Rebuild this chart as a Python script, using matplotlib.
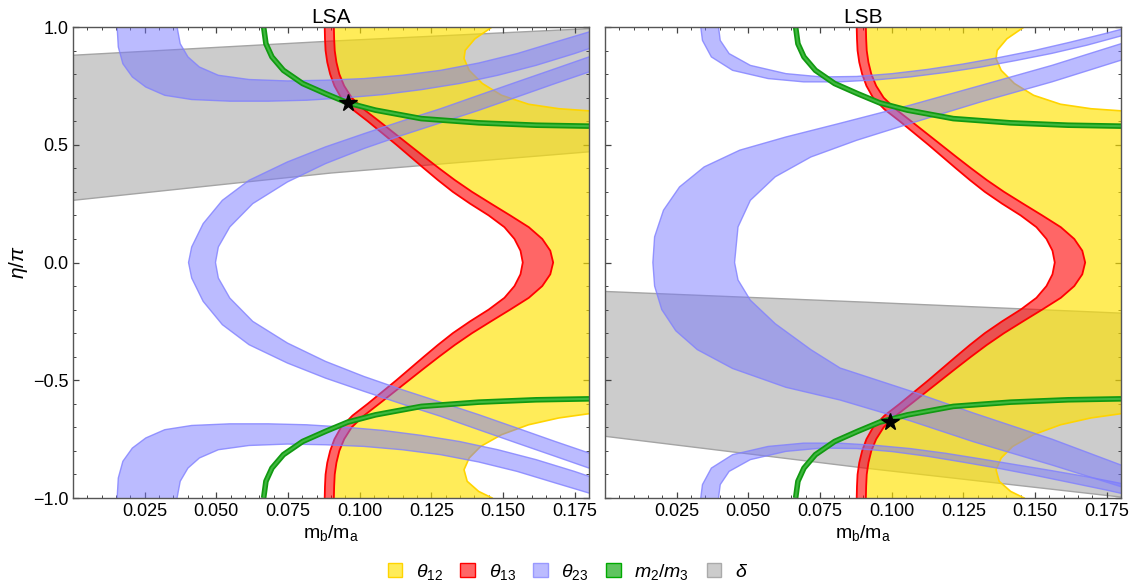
import numpy as np
import matplotlib
matplotlib.use('Agg')
import matplotlib.pyplot as plt
from matplotlib.patches import Patch
from matplotlib.ticker import MultipleLocator

plt.rcParams['font.family'] = ['Liberation Sans', 'DejaVu Sans']
plt.rcParams['mathtext.fontset'] = 'custom'
plt.rcParams['mathtext.rm'] = 'Liberation Sans'
plt.rcParams['mathtext.it'] = 'Liberation Sans:italic'

#---------------- data (x = m_b/m_a, y = eta/pi) ----------------
# theta13 band (same in both panels), edges as x(y)
RED_Y = [1.0, 0.95, 0.9, 0.85, 0.8, 0.75, 0.7, 0.65, 0.6, 0.55, 0.5, 0.45, 0.4, 0.35, 0.3, 0.25, 0.2, 0.15, 0.1, 0.05, 0.0,
         -0.05, -0.1, -0.15, -0.2, -0.25, -0.3, -0.35, -0.4, -0.45, -0.5, -0.55, -0.6, -0.65, -0.7, -0.75, -0.8, -0.85, -0.9, -0.95, -1.0]
RED_XL = [0.0878, 0.0879, 0.0881, 0.0887, 0.0897, 0.0912, 0.0935, 0.0975, 0.1028, 0.1078, 0.1128, 0.1176, 0.1224, 0.1273, 0.1325, 0.1385, 0.1450, 0.1505, 0.1540, 0.1561, 0.1569,
          0.1561, 0.1540, 0.1505, 0.1450, 0.1385, 0.1325, 0.1273, 0.1224, 0.1176, 0.1128, 0.1078, 0.1028, 0.0975, 0.0935, 0.0912, 0.0897, 0.0887, 0.0881, 0.0879, 0.0878]
RED_XR = [0.0910, 0.0911, 0.0913, 0.0919, 0.0929, 0.0946, 0.0972, 0.1015, 0.1068, 0.1120, 0.1172, 0.1224, 0.1277, 0.1332, 0.1392, 0.1458, 0.1525, 0.1590, 0.1637, 0.1665, 0.1675,
          0.1665, 0.1637, 0.1590, 0.1525, 0.1458, 0.1392, 0.1332, 0.1277, 0.1224, 0.1172, 0.1120, 0.1068, 0.1015, 0.0972, 0.0946, 0.0929, 0.0919, 0.0913, 0.0911, 0.0910]

# theta12: allowed region right of the red band, right boundary (with the two holes)
YEL_RY = [-1.0, -0.972, -0.929, -0.88, -0.83, -0.781, -0.731, -0.689, -0.66, -0.642,
          0.644, 0.653, 0.672, 0.71, 0.76, 0.816, 0.866, 0.901, 0.95, 1.0]
YEL_RX = [0.1462, 0.1415, 0.1375, 0.1364, 0.1382, 0.1422, 0.1495, 0.1589, 0.1695, 0.18,
          0.18, 0.1695, 0.1589, 0.1495, 0.1428, 0.1382, 0.1364, 0.1368, 0.1402, 0.1462]

# m2/m3 band (same in both panels)
GREEN_X = [0.0665, 0.0673, 0.0694, 0.0734, 0.0801, 0.0881, 0.0958, 0.1055, 0.1215, 0.1415, 0.1615, 0.18]
GREEN_Y_TOP = [1.0, 0.929, 0.873, 0.816, 0.760, 0.717, 0.678, 0.647, 0.611, 0.593, 0.583, 0.579]
GREEN_Y_BOT = [-1.0, -0.929, -0.873, -0.816, -0.760, -0.717, -0.678, -0.647, -0.611, -0.593, -0.583, -0.579]

# theta23, LSA
B1A_OUT_X = [0.0154, 0.0158, 0.0174, 0.0207, 0.0254, 0.0320, 0.0414, 0.0547, 0.0681, 0.0814, 0.0948, 0.1081, 0.1215, 0.1348, 0.1482, 0.1615, 0.1749, 0.18]
B1A_OUT_Y = [1.0, 0.915, 0.844, 0.788, 0.745, 0.710, 0.692, 0.685, 0.685, 0.689, 0.699, 0.713, 0.734, 0.760, 0.795, 0.837, 0.887, 0.908]
B1A_IN_X = [0.0363, 0.0374, 0.0401, 0.0441, 0.0507, 0.0614, 0.0748, 0.0881, 0.1015, 0.1148, 0.1282, 0.1415, 0.1549, 0.1682, 0.18]
B1A_IN_Y = [1.0, 0.929, 0.873, 0.830, 0.795, 0.777, 0.771, 0.774, 0.781, 0.795, 0.816, 0.847, 0.887, 0.936, 0.979]
B3A_OUT_Y = [-1.0, -0.915, -0.844, -0.788, -0.745, -0.710, -0.692, -0.685, -0.685, -0.689, -0.699, -0.713, -0.734, -0.760, -0.795, -0.837, -0.887, -0.908]
B3A_IN_Y = [-1.0, -0.929, -0.873, -0.830, -0.795, -0.777, -0.771, -0.774, -0.781, -0.795, -0.816, -0.847, -0.887, -0.936, -0.979]
B2A_OUT_X = [0.18, 0.1682, 0.1549, 0.1415, 0.1282, 0.1148, 0.1015, 0.0881, 0.0748, 0.0614, 0.0521, 0.0454, 0.0414, 0.0403,
             0.0414, 0.0454, 0.0521, 0.0614, 0.0748, 0.0881, 0.1015, 0.1148, 0.1282, 0.1415, 0.1549, 0.1682, 0.18]
B2A_OUT_Y = [0.873, 0.823, 0.767, 0.710, 0.653, 0.601, 0.547, 0.491, 0.427, 0.349, 0.264, 0.165, 0.066, 0.0,
             -0.066, -0.165, -0.264, -0.349, -0.427, -0.491, -0.547, -0.601, -0.653, -0.710, -0.767, -0.823, -0.873]
B2A_IN_X = [0.18, 0.1682, 0.1549, 0.1415, 0.1282, 0.1148, 0.1015, 0.0881, 0.0748, 0.0627, 0.0547, 0.0507, 0.0497,
            0.0507, 0.0547, 0.0627, 0.0748, 0.0881, 0.1015, 0.1148, 0.1282, 0.1415, 0.1549, 0.1682, 0.18]
B2A_IN_Y = [0.809, 0.760, 0.703, 0.646, 0.593, 0.540, 0.484, 0.420, 0.342, 0.250, 0.151, 0.066, 0.0,
            -0.066, -0.151, -0.250, -0.342, -0.420, -0.484, -0.540, -0.593, -0.646, -0.703, -0.760, -0.809]

# theta23, LSB
B1B_OUT_X = [0.0334, 0.0340, 0.0371, 0.0445, 0.0569, 0.0693, 0.0816, 0.0940, 0.1064, 0.1188, 0.1311, 0.1435, 0.1559, 0.1682, 0.18]
B1B_OUT_Y = [1.0, 0.943, 0.873, 0.816, 0.781, 0.767, 0.767, 0.775, 0.788, 0.807, 0.830, 0.858, 0.888, 0.923, 0.962]
B1B_IN_X = [0.0396, 0.0402, 0.0433, 0.0507, 0.0631, 0.0755, 0.0878, 0.1002, 0.1126, 0.1250, 0.1373, 0.1497, 0.1621, 0.1744, 0.18]
B1B_IN_Y = [1.0, 0.943, 0.887, 0.837, 0.802, 0.788, 0.790, 0.802, 0.820, 0.843, 0.870, 0.900, 0.935, 0.972, 0.99]
B3B_OUT_Y = [-1.0, -0.943, -0.873, -0.816, -0.781, -0.767, -0.767, -0.776, -0.790, -0.810, -0.834, -0.859, -0.884, -0.910, -0.938]
B3B_IN_Y = [-1.0, -0.943, -0.887, -0.837, -0.802, -0.788, -0.790, -0.803, -0.823, -0.848, -0.874, -0.903, -0.934, -0.965, -0.98]
B2B_OUT_X = [0.18, 0.1559, 0.1311, 0.1064, 0.0816, 0.0631, 0.047, 0.0346, 0.026, 0.0204, 0.0173, 0.0167,
             0.0173, 0.0198, 0.0247, 0.0322, 0.0445, 0.0631, 0.082, 0.1064, 0.1285, 0.1559, 0.18]
B2B_OUT_Y = [0.929, 0.837, 0.752, 0.668, 0.590, 0.533, 0.477, 0.406, 0.321, 0.222, 0.109, 0.0,
             -0.1, -0.2, -0.29, -0.37, -0.45, -0.53, -0.584, -0.672, -0.761, -0.86, -0.952]
B2B_IN_X = [0.18, 0.1559, 0.1311, 0.1064, 0.0878, 0.0718, 0.0594, 0.0507, 0.0464, 0.0452,
            0.0464, 0.0507, 0.0594, 0.0718, 0.082, 0.1064, 0.1285, 0.1559, 0.18]
B2B_IN_Y = [0.859, 0.767, 0.682, 0.590, 0.519, 0.448, 0.364, 0.264, 0.151, 0.0,
            -0.074, -0.16, -0.26, -0.37, -0.448, -0.545, -0.639, -0.75, -0.86]

# delta band: lower and upper edge
GRAY_X = [0.0, 0.09, 0.18]
GRAY_A_UP = [0.88, 0.94, 0.993]
GRAY_A_LO = [0.264, 0.38, 0.47]
GRAY_B_UP = [-0.123, -0.168, -0.215]
GRAY_B_LO = [-0.738, -0.872, -0.996]

# best fit points
STAR_A = (0.0958, 0.677)
STAR_B = (0.0993, -0.676)

TITLES = ['LSA', 'LSB']
LEGEND_LABELS = [r'$\theta_{12}$', r'$\theta_{13}$', r'$\theta_{23}$', r'$m_2/m_3$', r'$\delta$']

YELLOW_FACE = (1.0, 0.89, 0.0, 0.65)
RED_FACE = (1.0, 0.0, 0.0, 0.6)
BLUE_FACE = (0.47, 0.47, 1.0, 0.5)
BLUE_EDGE = (0.5, 0.5, 1.0, 0.8)


def band(ax, x1, y1, x2, y2, face, edge, lw=1.0, z=1):
    # polygon: first edge forward, second edge backward
    xs = np.concatenate([x1, np.array(x2)[::-1]])
    ys = np.concatenate([y1, np.array(y2)[::-1]])
    ax.fill(xs, ys, facecolor=face, edgecolor='none', zorder=z)
    ax.plot(x1, y1, color=edge, lw=lw, zorder=z)
    ax.plot(x2, y2, color=edge, lw=lw, zorder=z)


def draw_panel(ax, blue, gray_up, gray_lo, star):
    # delta (gray) at the bottom
    ax.fill_between(GRAY_X, gray_lo, gray_up, facecolor='#cccccc', edgecolor='none', zorder=1)
    ax.plot(GRAY_X, gray_up, color='#a4a4a4', lw=1.0, zorder=1)
    ax.plot(GRAY_X, gray_lo, color='#a4a4a4', lw=1.0, zorder=1)

    # theta12 (yellow)
    xs = np.concatenate([RED_XR, YEL_RX])
    ys = np.concatenate([RED_Y, YEL_RY])
    ax.fill(xs, ys, facecolor=YELLOW_FACE, edgecolor='none', zorder=2)
    ax.plot(YEL_RX[:10], YEL_RY[:10], color='#ffd400', lw=1.2, zorder=2)
    ax.plot(YEL_RX[10:], YEL_RY[10:], color='#ffd400', lw=1.2, zorder=2)

    # theta13 (red)
    band(ax, RED_XL, RED_Y, RED_XR, RED_Y, RED_FACE, '#ff0000', lw=1.3, z=3)

    # theta23 (blue)
    for (x1, y1, x2, y2) in blue:
        band(ax, x1, y1, x2, y2, BLUE_FACE, BLUE_EDGE, lw=1.0, z=4)

    # m2/m3 (green)
    for gy in (GREEN_Y_TOP, GREEN_Y_BOT):
        ax.plot(GREEN_X, gy, color='#119911', lw=4.0, zorder=5, solid_capstyle='butt')
        ax.plot(GREEN_X, gy, color='#3fb83f', lw=1.5, zorder=5, solid_capstyle='butt')

    ax.plot(star[0], star[1], marker='*', ms=13, color='black', zorder=6)

    ax.set_xlim(0, 0.18)
    ax.set_ylim(-1, 1)
    ax.set_xticks([0.025, 0.05, 0.075, 0.1, 0.125, 0.15, 0.175])
    ax.xaxis.set_minor_locator(MultipleLocator(0.005))
    ax.set_yticks([-1.0, -0.5, 0.0, 0.5, 1.0])
    ax.yaxis.set_minor_locator(MultipleLocator(0.1))
    ax.tick_params(which='both', direction='in', top=True, right=True, colors='#444444',
                   labelcolor='black', labelsize=13)
    ax.tick_params(which='major', length=4.5, width=0.9)
    ax.tick_params(which='minor', length=2.5, width=0.7)
    for s in ax.spines.values():
        s.set_color('#555555')
        s.set_linewidth(1.0)
        s.set_zorder(7)
    ax.set_xlabel(r'$\mathrm{m_b/m_a}$', fontsize=14, labelpad=2)


fig = plt.figure(figsize=(11.47, 5.88), dpi=100)
axA = fig.add_axes([73 / 1147, 1 - 498 / 588, 516 / 1147, 471 / 588])
axB = fig.add_axes([605 / 1147, 1 - 498 / 588, 516 / 1147, 471 / 588])

blueA = [(B1A_OUT_X, B1A_OUT_Y, B1A_IN_X, B1A_IN_Y),
         (B1A_OUT_X, B3A_OUT_Y, B1A_IN_X, B3A_IN_Y),
         (B2A_OUT_X, B2A_OUT_Y, B2A_IN_X, B2A_IN_Y)]
blueB = [(B1B_OUT_X, B1B_OUT_Y, B1B_IN_X, B1B_IN_Y),
         (B1B_OUT_X, B3B_OUT_Y, B1B_IN_X, B3B_IN_Y),
         (B2B_OUT_X, B2B_OUT_Y, B2B_IN_X, B2B_IN_Y)]

draw_panel(axA, blueA, GRAY_A_UP, GRAY_A_LO, STAR_A)
draw_panel(axB, blueB, GRAY_B_UP, GRAY_B_LO, STAR_B)
axB.tick_params(labelleft=False)
axA.set_ylabel(r'$\eta/\pi$', fontsize=15, labelpad=2)
axA.set_title(TITLES[0], fontsize=15, pad=3)
axB.set_title(TITLES[1], fontsize=15, pad=3)

handles = [Patch(facecolor=YELLOW_FACE, edgecolor='#ffd400'),
           Patch(facecolor=RED_FACE, edgecolor='#ff0000'),
           Patch(facecolor=BLUE_FACE, edgecolor='#9999ff'),
           Patch(facecolor='#5fc45f', edgecolor='#00aa00'),
           Patch(facecolor='#cccccc', edgecolor='#aaaaaa')]
fig.legend(handles, LEGEND_LABELS, loc='center', bbox_to_anchor=(0.495, 0.028), ncol=5, frameon=False,
           fontsize=14, handlelength=0.75, handleheight=0.75, columnspacing=0.9, handletextpad=0.7)

fig.savefig('out.png', dpi=100)
